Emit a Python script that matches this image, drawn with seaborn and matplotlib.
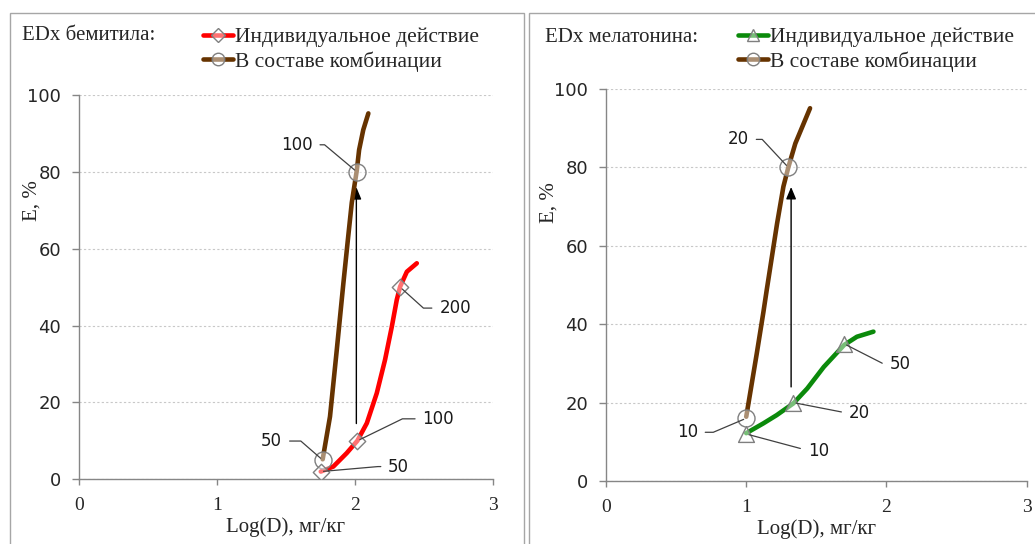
import numpy as np
import pandas as pd
import matplotlib
matplotlib.use('Agg')
import matplotlib.pyplot as plt
from matplotlib.lines import Line2D
from matplotlib.patches import Rectangle
import seaborn as sns

# Bemitil (left panel)
bem_ind_x = [1.752, 1.843, 1.940, 2.017, 2.086, 2.158, 2.218, 2.267, 2.303, 2.327, 2.376, 2.448]
bem_ind_y = [2.0, 3.3, 6.8, 10.0, 14.6, 22.4, 31.1, 39.7, 46.7, 50.1, 54.0, 56.2]
bem_ind_pts_x = [1.752, 2.017, 2.327]
bem_ind_pts_y = [2, 10, 50]
bem_ind_doses = ['50', '100', '200']

bem_comb_x = [1.766, 1.819, 1.868, 1.916, 1.952, 1.977, 2.013, 2.03, 2.06, 2.097]
bem_comb_y = [5.2, 16.3, 33.6, 51.0, 63.5, 72.0, 80.3, 85.7, 90.9, 95.2]
bem_comb_pts_x = [1.766, 2.013]
bem_comb_pts_y = [5, 80]
bem_comb_doses = ['50', '100']

bem_arrow_x = 2.01
bem_arrow_y = [14.5, 76]

# Melatonin (right panel)
mel_ind_x = [1.00, 1.122, 1.217, 1.336, 1.435, 1.553, 1.698, 1.789, 1.907]
mel_ind_y = [12.2, 14.7, 16.8, 19.8, 23.6, 29.1, 34.7, 36.8, 38.1]
mel_ind_pts_x = [1.00, 1.336, 1.698]
mel_ind_pts_y = [12, 20, 35]
mel_ind_doses = ['10', '20', '50']

mel_comb_x = [1.00, 1.075, 1.122, 1.146, 1.22, 1.265, 1.30, 1.35, 1.455]
mel_comb_y = [16.4, 32.5, 43.0, 48.7, 65.7, 75.1, 80.0, 86.1, 95.1]
mel_comb_pts_x = [1.00, 1.30]
mel_comb_pts_y = [16, 80]
mel_comb_doses = ['10', '20']

mel_arrow_x = 1.32
mel_arrow_y = [24, 75]

legend_labels = ['Индивидуальное действие', 'В составе комбинации']

sns.set_theme(style='white')
plt.rcParams['font.family'] = ['Liberation Serif', 'DejaVu Serif']

SERIF = 'Liberation Serif'
SANS = 'DejaVu Sans'
GRAY = '#868686'
BROWN = '#663300'
RED = '#FF0000'
GREEN = '#0B8A0B'
FACE = (1, 1, 1, 0.45)

fig = plt.figure(figsize=(10.35, 5.44), dpi=100)

# panel frames
fig.patches.append(Rectangle((9.5 / 1035, -0.02), 514 / 1035, 1.02 - 12.5 / 544,
                             transform=fig.transFigure, fill=False, ec='#A6A6A6', lw=1))
fig.patches.append(Rectangle((528.5 / 1035, -0.02), 0.6, 1.02 - 12.5 / 544,
                             transform=fig.transFigure, fill=False, ec='#A6A6A6', lw=1))

ax1 = fig.add_axes([0.0763, 0.119, 0.400, 0.7065])
ax2 = fig.add_axes([0.5855, 0.1158, 0.4065, 0.7206])


def style_axes(ax, ylab_x, ylab_y):
    ax.set_xlim(0, 3)
    ax.set_ylim(0, 100)
    ax.set_xticks([0, 1, 2, 3])
    ax.set_yticks(range(0, 101, 20))
    ax.yaxis.grid(True, linestyle=(0, (2, 2)), color='#C8C8C8', lw=0.8)
    ax.xaxis.grid(False)
    sns.despine(ax=ax)
    for s in ['left', 'bottom']:
        ax.spines[s].set_color(GRAY)
        ax.spines[s].set_linewidth(1)
    ax.tick_params(axis='both', direction='out', width=1, color=GRAY,
                   left=True, bottom=True)
    ax.tick_params(axis='x', length=4, pad=9)
    ax.tick_params(axis='y', length=5, pad=8)
    for t in ax.get_xticklabels():
        t.set_fontfamily(SERIF)
        t.set_fontsize(14)
    for t in ax.get_yticklabels():
        t.set_fontfamily(SANS)
        t.set_fontsize(13)
        t.set_color('#262626')
    ax.set_xlabel('Log(D), мг/кг', fontsize=15, fontfamily=SERIF, labelpad=2)
    ax.set_ylabel('E, %', fontsize=15, fontfamily=SERIF, va='center')
    ax.yaxis.set_label_coords(ylab_x, ylab_y)


def draw_curve(ax, xs, ys, color):
    sns.lineplot(x=xs, y=ys, sort=False, color=color, lw=3.3, ax=ax,
                 solid_capstyle='round', solid_joinstyle='round', zorder=3)


def draw_points(ax, xs, ys, marker, size):
    sns.scatterplot(x=xs, y=ys, marker=marker, s=size, facecolor=FACE,
                    edgecolor='#7F7F7F', linewidth=1, ax=ax, zorder=4)


def label(ax, text, x, y, dx, dy, angle):
    ax.annotate(text, xy=(x, y), xytext=(dx, dy), textcoords='offset pixels',
                ha='center', va='center', fontsize=12, fontfamily=SANS, color='#1A1A1A',
                arrowprops=dict(arrowstyle='-', color='#404040', lw=0.9,
                                shrinkA=3, shrinkB=2,
                                connectionstyle=f'angle,angleA=0,angleB={angle},rad=0'),
                zorder=5)


def arrow(ax, x, ys):
    ax.annotate('', xy=(x, ys[1]), xytext=(x, ys[0]),
                arrowprops=dict(arrowstyle='-|>,head_length=0.6,head_width=0.25',
                                color='black', lw=1, shrinkA=0, shrinkB=0), zorder=2)


# left panel
style_axes(ax1, -0.113, 0.724)
draw_curve(ax1, bem_comb_x, bem_comb_y, BROWN)
draw_curve(ax1, bem_ind_x, bem_ind_y, RED)
arrow(ax1, bem_arrow_x, bem_arrow_y)
draw_points(ax1, bem_comb_pts_x, bem_comb_pts_y, 'o', 150)
draw_points(ax1, bem_ind_pts_x, bem_ind_pts_y, 'D', 70)
label(ax1, bem_comb_doses[0], bem_comb_pts_x[0], bem_comb_pts_y[0], -51, 19, 139)
label(ax1, bem_comb_doses[1], bem_comb_pts_x[1], bem_comb_pts_y[1], -60, 27, 140)
label(ax1, bem_ind_doses[0], bem_ind_pts_x[0], bem_ind_pts_y[0], 78, 5, 5)
label(ax1, bem_ind_doses[1], bem_ind_pts_x[1], bem_ind_pts_y[1], 81, 22, 26)
label(ax1, bem_ind_doses[2], bem_ind_pts_x[2], bem_ind_pts_y[2], 55, -21, -42)

# right panel
style_axes(ax2, -0.135, 0.71)
draw_curve(ax2, mel_comb_x, mel_comb_y, BROWN)
draw_curve(ax2, mel_ind_x, mel_ind_y, GREEN)
arrow(ax2, mel_arrow_x, mel_arrow_y)
draw_points(ax2, mel_comb_pts_x, mel_comb_pts_y, 'o', 150)
draw_points(ax2, mel_ind_pts_x, mel_ind_pts_y, '^', 130)
label(ax2, mel_comb_doses[0], mel_comb_pts_x[0], mel_comb_pts_y[0], -59, -14, -157)
label(ax2, mel_comb_doses[1], mel_comb_pts_x[1], mel_comb_pts_y[1], -50, 28, 133)
label(ax2, mel_ind_doses[0], mel_ind_pts_x[0], mel_ind_pts_y[0], 72, -17, -15)
label(ax2, mel_ind_doses[1], mel_ind_pts_x[1], mel_ind_pts_y[1], 66, -10, -11)
label(ax2, mel_ind_doses[2], mel_ind_pts_x[2], mel_ind_pts_y[2], 56, -20, -27)

# titles and legends
fig.text(22 / 1035, 1 - 36 / 544, 'EDx бемитила:', fontsize=15, fontfamily=SERIF,
         va='center', ha='left')
fig.text(545 / 1035, 1 - 37 / 544, 'EDx мелатонина:', fontsize=15, fontfamily=SERIF,
         va='center', ha='left')


def make_legend(color, marker, ms, x0):
    handles = [Line2D([], [], color=color, lw=3.3, marker=marker, ms=ms,
                      mfc=FACE, mec='#7F7F7F', mew=1),
               Line2D([], [], color=BROWN, lw=3.3, marker='o', ms=9,
                      mfc=FACE, mec='#7F7F7F', mew=1)]
    fig.legend(handles, legend_labels, loc='upper left',
               bbox_to_anchor=(x0 / 1035, 1 - 27 / 544), frameon=False,
               prop={'family': SERIF, 'size': 15.5}, handlelength=1.4,
               handletextpad=0.1, borderpad=0, borderaxespad=0, labelspacing=0.2)


make_legend(RED, 'D', 7, 203)
make_legend(GREEN, '^', 9, 738)

fig.savefig('out.png', dpi=100)
